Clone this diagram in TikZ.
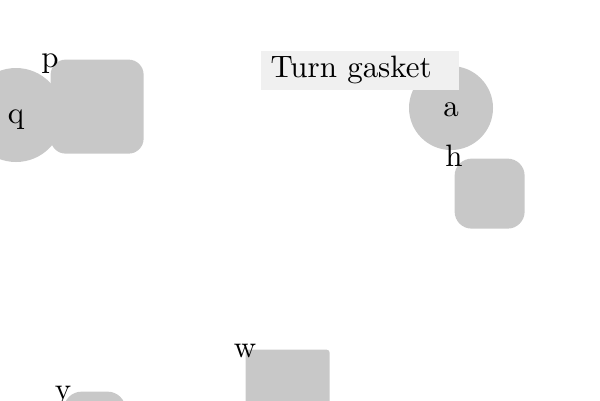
\documentclass[tikz,border=0pt]{standalone}
\usepackage{tikz}
\usetikzlibrary{positioning}
\definecolor{ShapeGray}{RGB}{200,200,200}
\definecolor{BannerGray}{RGB}{240,240,240}

\begin{document}
\begin{tikzpicture}[x=0.323pt, y=-0.323pt,
    blob/.style={fill=ShapeGray, draw=none, inner sep=0pt, text height=1.5ex, text depth=.25ex},
    cornerlabel/.style={anchor=center, inner sep=0pt, text height=1.5ex, text depth=.25ex}]
    \def\px{0.323pt}
    \useasboundingbox (0,0) rectangle (600,400);
    % Left pair
    \node[blob, circle, minimum size=94*\px] (q) at (16,115) {q};
    \node[blob, rectangle, rounded corners=15*\px, anchor=north west,
          minimum width=93*\px, minimum height=94*\px,
          label={[cornerlabel]north west:p}] (p) at (50,59) {};
    % Right group
    \node[blob, circle, minimum size=84*\px] (a) at (451,108) {a};
    \node[fill=BannerGray, anchor=north west, inner xsep=10*\px, inner ysep=0pt,
          minimum height=39*\px, text width=178*\px, align=left] (banner) at (260,50) {Turn gasket};
    \node[blob, rectangle, rounded corners=17*\px, anchor=north west,
          minimum size=70*\px,
          label={[cornerlabel]north west:h}] (h) at (454,158) {};
    % Bottom pair
    \node[blob, rectangle, rounded corners=3*\px, anchor=north west,
          minimum width=84*\px, minimum height=84*\px,
          label={[cornerlabel]north west:w}] (w) at (245,349) {};
    \node[blob, rectangle, rounded corners=18*\px, anchor=north west,
          minimum width=62*\px, minimum height=62*\px,
          label={[cornerlabel]north west:y}] (y) at (63,391) {};
\end{tikzpicture}
\end{document}
